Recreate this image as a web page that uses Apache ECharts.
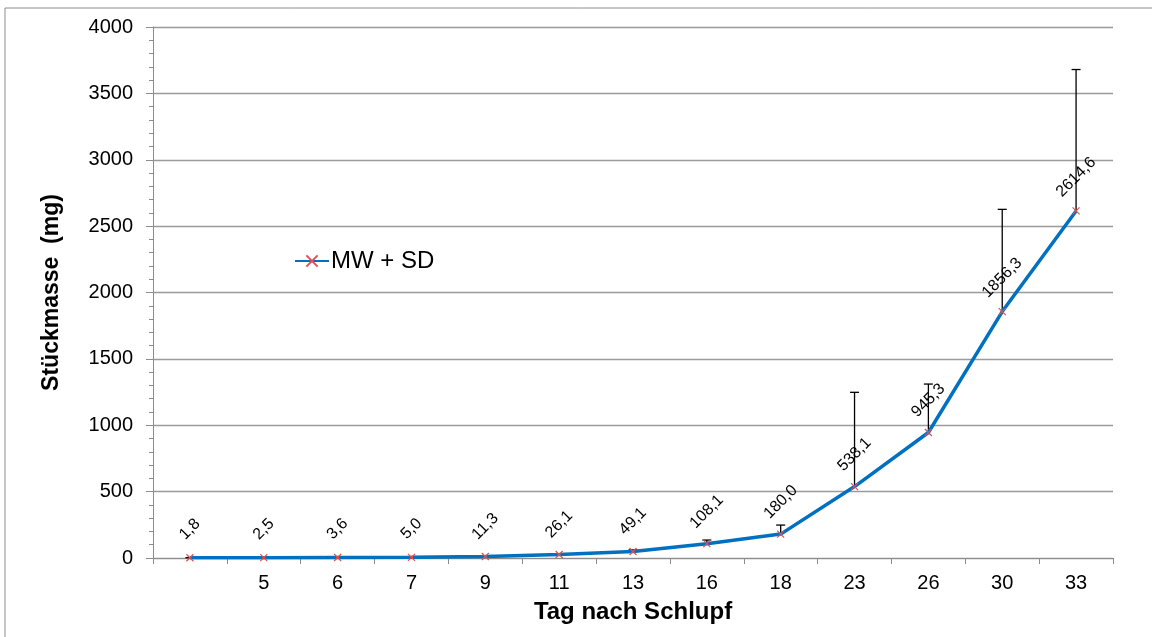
<!DOCTYPE html>
<html>
<head>
<meta charset="utf-8">
<script src="https://cdn.jsdelivr.net/npm/echarts@6/dist/echarts.min.js"></script>
<style>
html,body{margin:0;padding:0;background:#fff;}
#chart{width:1152px;height:637px;}
</style>
</head>
<body>
<div id="chart"></div>
<script>
// ---- data ----
const categories = ['', '5', '6', '7', '9', '11', '13', '16', '18', '23', '26', '30', '33'];
const meanValues = [1.8, 2.5, 3.6, 5.0, 11.3, 26.1, 49.1, 108.1, 180.0, 538.1, 945.3, 1856.3, 2614.6];
const sdValues = [0.5, 0.6, 0.8, 1.2, 3, 6, 12, 27, 68, 710, 365, 770, 1065];
const yTicks = [0, 500, 1000, 1500, 2000, 2500, 3000, 3500, 4000];
const seriesName = 'MW + SD';

const FONT = "'Liberation Sans', Arial, sans-serif";
const labelFontSize = 16;
const ctx = document.createElement('canvas').getContext('2d');
ctx.font = labelFontSize + 'px ' + FONT;
function fmt(v){ return v.toFixed(1).replace('.', ','); }

const lineData = meanValues.map(function(v){
  const w = ctx.measureText(fmt(v)).width;
  const d = 24 + 0.2 * w;
  const k = d / Math.SQRT2;
  return { value: v, label: { offset: [k, -k] } };
});
const errData = meanValues.map(function(v, i){ return [i, v, v + sdValues[i]]; });

const chart = echarts.init(document.getElementById('chart'), null, {renderer:'canvas'});
chart.setOption({
  animation: false,
  backgroundColor: '#fff',
  textStyle: { fontFamily: FONT },
  graphic: [
    { type:'line', shape:{x1:5, y1:8, x2:5, y2:637}, style:{stroke:'#8c8c8c', lineWidth:1} },
    { type:'line', shape:{x1:5, y1:8, x2:1152, y2:8}, style:{stroke:'#8c8c8c', lineWidth:1} }
  ],
  grid: { left:153, right:39, top:27, bottom:79, containLabel:false },
  legend: {
    data:[seriesName],
    left: 289, top: 244,
    itemWidth: 34, itemHeight: 14, itemGap: 4,
    textStyle: { fontSize: 24, color:'#000', fontFamily: FONT, padding:[0,0,0,-3] }
  },
  xAxis: {
    type:'category',
    data: categories,
    boundaryGap: true,
    name: 'Tag nach Schlupf',
    nameLocation: 'middle',
    nameGap: 42,
    nameTextStyle: { fontSize: 24, fontWeight:'bold', color:'#000', fontFamily: FONT },
    axisLine: { lineStyle: { color:'#8c8c8c', width:1 } },
    axisTick: { show:true, length:6, alignWithLabel:false, lineStyle:{ color:'#8c8c8c' } },
    axisLabel: { fontSize: 20, color:'#000', margin: 15, interval: 0, fontFamily: FONT },
    splitLine: { show:false }
  },
  yAxis: {
    type:'value',
    min: yTicks[0], max: yTicks[yTicks.length-1], interval: 500,
    name: 'Stückmasse  (mg)',
    nameLocation: 'middle',
    nameGap: 90,
    nameTextStyle: { fontSize: 23, fontWeight:'bold', color:'#000', fontFamily: FONT },
    axisLine: { show:true, lineStyle: { color:'#8c8c8c', width:1 } },
    axisTick: { show:true, length:7, lineStyle:{ color:'#8c8c8c' } },
    minorTick: { show:true, splitNumber:5, length:4, lineStyle:{ color:'#8c8c8c' } },
    axisLabel: { fontSize: 20, color:'#000', margin: 20, fontFamily: FONT,
      formatter: function(v){ return String(v); } },
    splitLine: { show:true, lineStyle:{ color:'#9a9a9a', width:1.3 } }
  },
  series: [
    {
      type:'custom',
      name:'SD',
      z: 1,
      silent: true,
      data: errData,
      encode: { x: 0, y: [1, 2] },
      renderItem: function(params, api){
        const p0 = api.coord([api.value(0), api.value(1)]);
        const p1 = api.coord([api.value(0), api.value(2)]);
        const cap = 4.5;
        const st = { stroke:'#000', lineWidth:1.3 };
        return { type:'group', children:[
          { type:'line', shape:{x1:p0[0], y1:p0[1], x2:p1[0], y2:p1[1]}, style: st },
          { type:'line', shape:{x1:p1[0]-cap, y1:p1[1], x2:p1[0]+cap, y2:p1[1]}, style: st }
        ]};
      }
    },
    {
      type:'line',
      name: seriesName,
      z: 3,
      data: lineData,
      symbol: 'path://M0,0L10,10M10,0L0,10',
      symbolSize: 7,
      showAllSymbol: true,
      lineStyle: { color:'#0070C0', width:3.5 },
      itemStyle: { color:'#E05050', borderColor:'#E05050', borderWidth:1.2 },
      label: {
        show: true,
        position: 'inside',
        rotate: 45,
        align: 'center',
        verticalAlign: 'middle',
        fontSize: labelFontSize,
        color: '#000',
        fontFamily: FONT,
        formatter: function(p){ return fmt(p.value); }
      },
      emphasis: { disabled: true }
    }
  ]
});
</script>
</body>
</html>
